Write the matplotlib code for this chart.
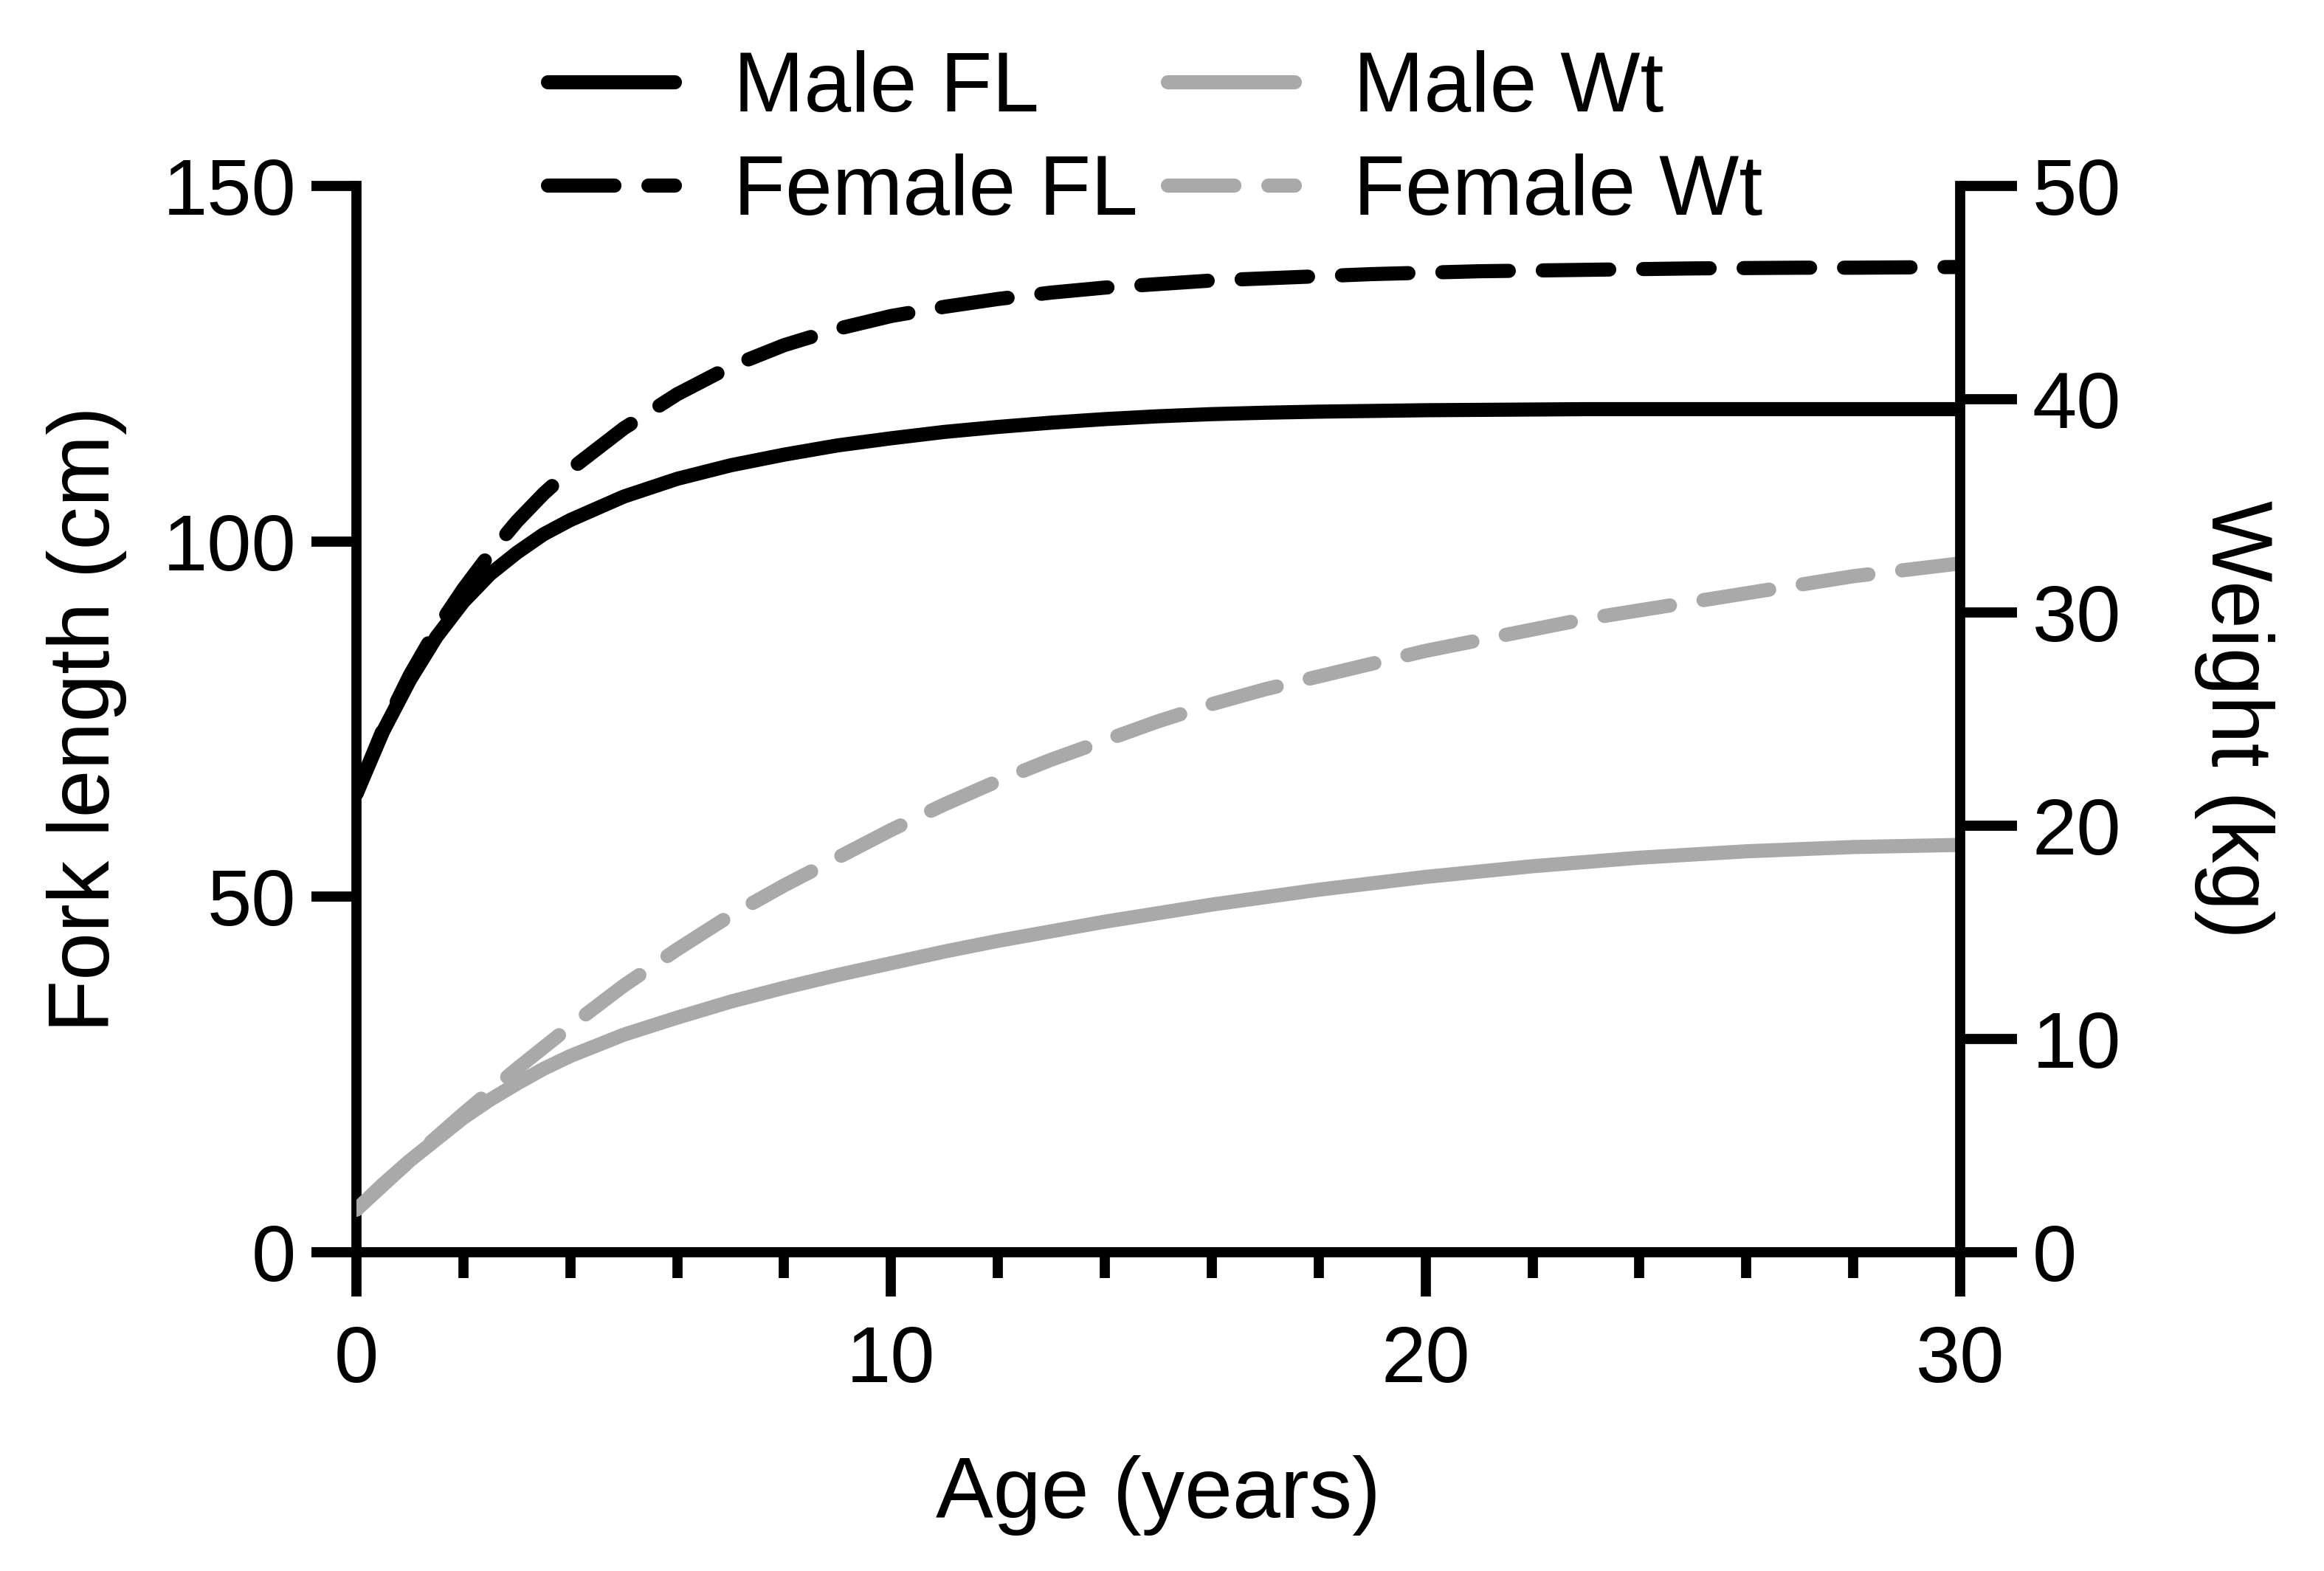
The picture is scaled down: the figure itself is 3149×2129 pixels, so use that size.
import matplotlib
matplotlib.use("Agg")
import matplotlib.pyplot as plt
from matplotlib.ticker import MultipleLocator

plt.rcParams['font.family'] = ['Liberation Sans', 'DejaVu Sans']

# values
age = [0, 0.5, 1, 1.5, 2, 2.5, 3, 3.5, 4, 5, 6, 7, 8, 9, 10, 11, 12, 13, 14, 15,
       16, 17, 18, 19, 20, 21, 22, 23, 24, 25, 26, 27, 28, 29, 30]
male_fl = [64.5, 73.3, 80.5, 86.6, 91.5, 95.4, 98.4, 101.0, 103.0, 106.3, 108.8, 110.7,
           112.2, 113.5, 114.5, 115.4, 116.1, 116.7, 117.2, 117.6, 117.9, 118.1, 118.25,
           118.35, 118.45, 118.5, 118.55, 118.6, 118.6, 118.6, 118.6, 118.6, 118.6, 118.6, 118.6]
female_fl = [64.5, 73.6, 81.2, 87.7, 93.3, 98.3, 102.8, 106.7, 110.1, 115.9, 120.7, 124.6,
             127.6, 129.9, 131.7, 133.0, 134.1, 135.0, 135.7, 136.2, 136.7, 137.0, 137.3,
             137.6, 137.8, 138.0, 138.1, 138.2, 138.3, 138.4, 138.45, 138.5, 138.5, 138.55, 138.6]
male_wt = [2.0, 3.2, 4.3, 5.3, 6.3, 7.15, 7.9, 8.6, 9.2, 10.2, 11.0, 11.75, 12.4, 13.0,
           13.55, 14.1, 14.6, 15.05, 15.5, 15.9, 16.3, 16.65, 17.0, 17.3, 17.6, 17.85,
           18.1, 18.3, 18.5, 18.65, 18.8, 18.9, 19.0, 19.05, 19.1]
female_wt = [2.0, 3.15, 4.3, 5.4, 6.5, 7.55, 8.6, 9.6, 10.6, 12.5, 14.2, 15.8, 17.2, 18.5,
             19.8, 21.0, 22.1, 23.1, 24.0, 24.9, 25.7, 26.4, 27.0, 27.6, 28.2, 28.7, 29.2,
             29.7, 30.1, 30.5, 30.9, 31.3, 31.7, 32.0, 32.3]

W, H = 3149, 2129
fig = plt.figure(figsize=(W / 300, H / 300), dpi=300)
ax = fig.add_axes([483 / W, 1 - 1697 / H, (2656 - 483) / W, (1697 - 252) / H])
ax2 = ax.twinx()

grey = '#a9a9a9'
lw = 4.6
dash = (4.7, 2.4)

l1, = ax.plot(age, male_fl, color='black', lw=lw, solid_capstyle='round', label='Male FL')
l2, = ax.plot(age, female_fl, color='black', lw=lw, ls=(0, dash), dash_capstyle='round',
              label='Female FL')
l3, = ax2.plot(age, male_wt, color=grey, lw=lw, solid_capstyle='round', label='Male Wt')
l4, = ax2.plot(age, female_wt, color=grey, lw=lw, ls=(0, dash), dash_capstyle='round',
               label='Female Wt')

ax.set_xlim(0, 30)
ax.set_ylim(0, 150)
ax2.set_ylim(0, 50)

ax.xaxis.set_major_locator(MultipleLocator(10))
ax.xaxis.set_minor_locator(MultipleLocator(2))
ax.yaxis.set_major_locator(MultipleLocator(50))
ax2.yaxis.set_major_locator(MultipleLocator(10))

spw = 3.3
for a in (ax, ax2):
    a.spines['top'].set_visible(False)
    for s in a.spines.values():
        s.set_linewidth(spw)
ax.spines['right'].set_visible(False)
ax2.spines['left'].set_visible(False)
ax2.spines['bottom'].set_visible(False)

ax.tick_params(axis='x', which='major', length=14.4, width=spw, labelsize=26, pad=9)
ax.tick_params(axis='x', which='minor', length=8.4, width=spw)
ax.tick_params(axis='y', length=14.6, width=spw, labelsize=26, pad=5)
ax2.tick_params(axis='y', length=18.5, width=spw, labelsize=26, pad=5)

ax.set_xlabel('Age (years)', fontsize=28)
ax.set_ylabel('Fork length (cm)', fontsize=28)
ax2.set_ylabel('Weight (kg)', fontsize=28, rotation=270)
ax.xaxis.set_label_coords(0.5, -0.19)
ax.yaxis.set_label_coords(-0.143, 0.5)
ax2.yaxis.set_label_coords(1.196, 0.5)

fig.legend([l1, l2, l3, l4], ['Male FL', 'Female FL', 'Male Wt', 'Female Wt'],
           ncol=2, loc='center', bbox_to_anchor=(0.497, 0.910), frameon=False,
           fontsize=27.5, handlelength=1.5, handletextpad=0.7, columnspacing=0.35,
           labelspacing=0.29, borderpad=0)

fig.savefig('out.png', dpi=300)
